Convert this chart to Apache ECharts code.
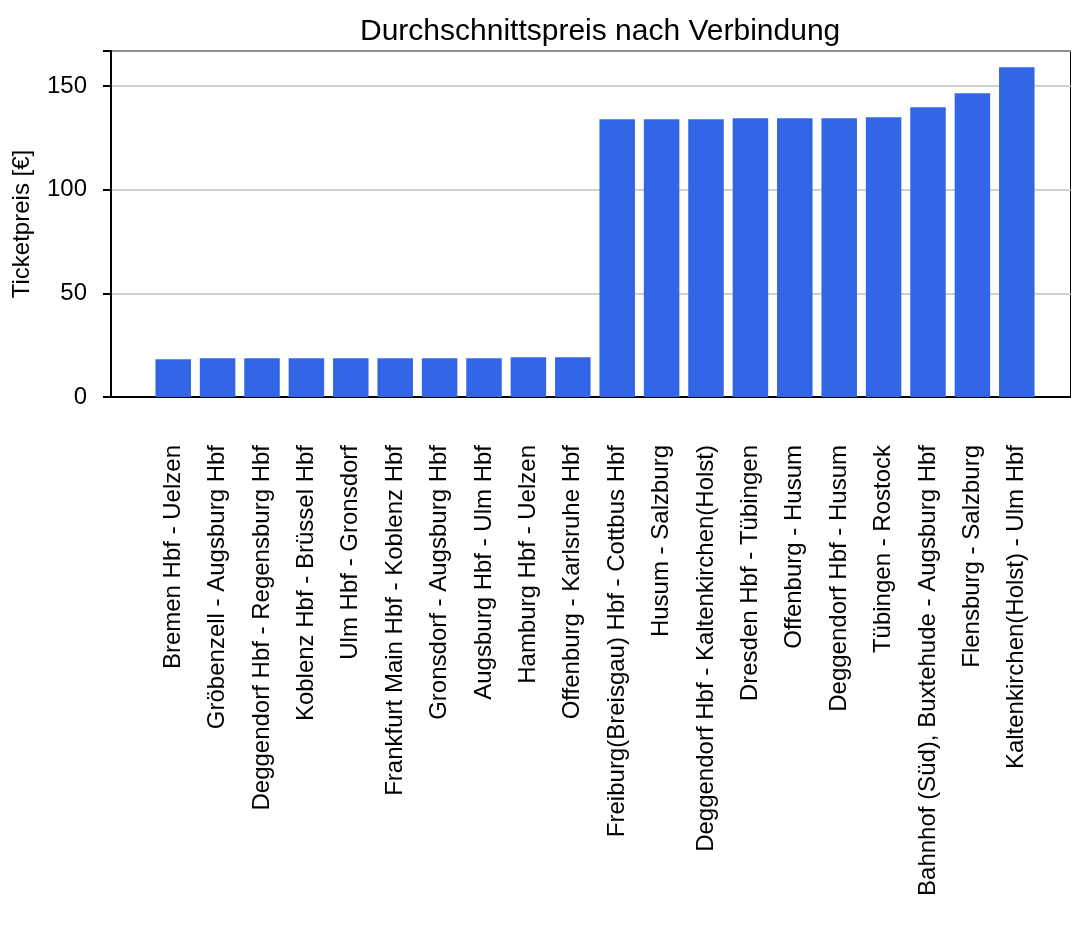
<!DOCTYPE html>
<html>
<head>
<meta charset="utf-8">
<script src="https://cdn.jsdelivr.net/npm/echarts@6/dist/echarts.min.js"></script>
<style>
  html, body { margin: 0; padding: 0; background: #fff; }
  #chart { width: 1071px; height: 948px; }
</style>
</head>
<body>
<div id="chart"></div>
<script>
  // Verbindungen (x-Achse)
  var verbindungen = [
    'Bremen Hbf - Uelzen',
    'Gröbenzell - Augsburg Hbf',
    'Deggendorf Hbf - Regensburg Hbf',
    'Koblenz Hbf - Brüssel Hbf',
    'Ulm Hbf - Gronsdorf',
    'Frankfurt Main Hbf - Koblenz Hbf',
    'Gronsdorf - Augsburg Hbf',
    'Augsburg Hbf - Ulm Hbf',
    'Hamburg Hbf - Uelzen',
    'Offenburg - Karlsruhe Hbf',
    'Freiburg(Breisgau) Hbf - Cottbus Hbf',
    'Husum - Salzburg',
    'Deggendorf Hbf - Kaltenkirchen(Holst)',
    'Dresden Hbf - Tübingen',
    'Offenburg - Husum',
    'Deggendorf Hbf - Husum',
    'Tübingen - Rostock',
    'Bahnhof (Süd), Buxtehude - Augsburg Hbf',
    'Flensburg - Salzburg',
    'Kaltenkirchen(Holst) - Ulm Hbf'
  ]
  // Durchschnittspreis in €
  var preise = [18.2, 18.7, 18.7, 18.7, 18.7, 18.7, 18.7, 18.7, 19.2, 19.2,
    134.0, 134.0, 134.0, 134.5, 134.5, 134.5, 135.0, 139.8, 146.6, 159.1]
  var yTicks = [0, 50, 100, 150]
  var yMax = 167

  var font = "'Liberation Sans', Arial, Helvetica, sans-serif"
  var chart = echarts.init(document.getElementById('chart'))

  var option = {
    animation: false,
    backgroundColor: '#fff',
    title: {
      text: 'Durchschnittspreis nach Verbindung',
      left: 355,
      top: 12,
      textStyle: { fontFamily: font, fontSize: 30, fontWeight: 'normal', color: '#000' }
    },
    grid: [
      // Balken
      { left: 151, right: 32, top: 51, bottom: 551 },
      // Rahmen + y-Achse (rechts über den Rand hinaus, wie im Original)
      { left: 111, right: -10, top: 51, bottom: 551, show: true, borderColor: '#000', borderWidth: 2 }
    ],
    xAxis: [
      {
        type: 'category',
        gridIndex: 0,
        data: verbindungen,
        axisLine: { show: false },
        axisTick: { alignWithLabel: true, length: 8, lineStyle: { color: '#000', width: 2 } },
        axisLabel: {
          rotate: 90, interval: 0, margin: 48,
          fontFamily: font, fontSize: 24, color: '#000'
        }
      },
      {
        type: 'value',
        gridIndex: 1,
        min: 0, max: 1,
        axisLine: { show: true, onZero: false, lineStyle: { color: '#000', width: 2 } },
        axisTick: { show: false },
        axisLabel: { show: false },
        splitLine: { show: false }
      }
    ],
    yAxis: [
      {
        type: 'value',
        gridIndex: 0,
        min: 0, max: yMax,
        show: false,
        splitLine: { show: false }
      },
      {
        type: 'value',
        gridIndex: 1,
        min: 0, max: yMax, interval: 50,
        name: 'Ticketpreis [€]',
        nameLocation: 'middle',
        nameGap: 77,
        nameTextStyle: { fontFamily: font, fontSize: 24, color: '#000' },
        axisLine: { show: true, lineStyle: { color: '#000', width: 2 } },
        axisTick: { show: true, length: 8, lineStyle: { color: '#000', width: 2 } },
        axisLabel: {
          margin: 24, fontFamily: font, fontSize: 24, color: '#000',
          formatter: function (v) { return yTicks.indexOf(v) >= 0 ? String(v) : '' }
        },
        splitLine: { show: true, lineStyle: { color: '#c0c0c0', width: 1.5 } }
      }
    ],
    series: [{
      name: 'Preis',
      type: 'bar',
      xAxisIndex: 0,
      yAxisIndex: 0,
      data: preise,
      barWidth: '80%',
      itemStyle: { color: '#3366e6' },
      z: 3
    }]
  }
  chart.setOption(option)
</script>
</body>
</html>
